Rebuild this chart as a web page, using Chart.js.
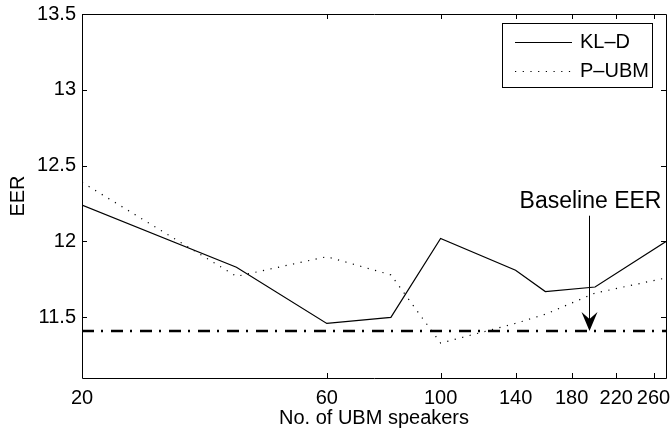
<!DOCTYPE html>
<html>
<head>
    <style>
        body {
            margin: 0;
            background: #fff;
        }
        canvas {
            display: block;
        }
    </style>
    <script src="https://cdn.jsdelivr.net/npm/chart.js"></script>
</head>
<body>
    <canvas id="myChart" width="670" height="429"></canvas>
    <script>
        // values
        var speakers = [20, 40, 60, 80, 100, 140, 160, 200, 275];
        var klD = [12.24, 11.83, 11.46, 11.50, 12.02, 11.81, 11.67, 11.70, 12.00];
        var pUbm = [12.39, 11.77, 11.90, 11.78, 11.33, 11.46, 11.52, 11.66, 11.76];
        var baselineEer = 11.41;
        var xTicks = [20, 60, 100, 140, 180, 220, 260];
        var yTicks = [11.5, 12, 12.5, 13, 13.5];

        var FONT = '"Liberation Sans", Arial, Helvetica, sans-serif';

        function pairs(xs, ys) {
            return xs.map(function(x, i) { return {x: x, y: ys[i]}; });
        }

        // box, inward ticks on all four sides
        var framePlugin = {
            id: 'frame',
            afterDraw: function(chart) {
                var c = chart.ctx, a = chart.chartArea;
                var xs = chart.scales.x, ys = chart.scales.y;
                c.save();
                c.strokeStyle = '#000';
                c.lineWidth = 1;
                c.beginPath();
                c.rect(a.left + 0.5, a.top + 0.5, a.right - a.left, a.bottom - a.top);
                xTicks.forEach(function(v) {
                    var px = Math.round(xs.getPixelForValue(v)) + 0.5;
                    c.moveTo(px, a.bottom); c.lineTo(px, a.bottom - 5);
                    c.moveTo(px, a.top); c.lineTo(px, a.top + 5);
                });
                yTicks.forEach(function(v) {
                    var py = Math.round(ys.getPixelForValue(v)) + 0.5;
                    c.moveTo(a.left, py); c.lineTo(a.left + 5, py);
                    c.moveTo(a.right, py); c.lineTo(a.right - 5, py);
                });
                c.stroke();
                c.restore();
            }
        };

        // legend box in the top right corner
        var legendBoxPlugin = {
            id: 'legendBox',
            afterDraw: function(chart) {
                var c = chart.ctx;
                var sets = chart.data.datasets.filter(function(d) { return d.inLegend; });
                c.save();
                c.fillStyle = '#fff';
                c.strokeStyle = '#000';
                c.lineWidth = 1;
                c.fillRect(502, 23, 150, 64);
                c.strokeRect(502.5, 23.5, 150, 64);
                c.font = '20px ' + FONT;
                c.textBaseline = 'middle';
                sets.forEach(function(d, i) {
                    var y = 42 + i * 29;
                    c.beginPath();
                    c.setLineDash(d.borderDash || []);
                    c.lineWidth = d.borderWidth;
                    c.moveTo(515, y + 0.5); c.lineTo(572, y + 0.5);
                    c.stroke();
                    c.setLineDash([]);
                    c.fillStyle = '#000';
                    c.fillText(d.label, 580, y);
                });
                c.restore();
            }
        };

        // "Baseline EER" note with arrow down to the baseline
        var arrowX = 195, arrowTop = 12.17, noteY = 12.26;
        var arrowPlugin = {
            id: 'arrow',
            afterDatasetsDraw: function(chart) {
                var c = chart.ctx;
                var xs = chart.scales.x, ys = chart.scales.y;
                var px = Math.round(xs.getPixelForValue(arrowX)) + 0.5;
                var tip = ys.getPixelForValue(baselineEer);
                var top = ys.getPixelForValue(arrowTop);
                c.save();
                c.strokeStyle = '#000';
                c.fillStyle = '#000';
                c.lineWidth = 1;
                c.beginPath();
                c.moveTo(px, top); c.lineTo(px, tip - 8);
                c.stroke();
                c.beginPath();
                c.moveTo(px, tip);
                c.lineTo(px - 8, tip - 19);
                c.lineTo(px, tip - 12);
                c.lineTo(px + 8, tip - 19);
                c.closePath();
                c.fill();
                c.font = '23px ' + FONT;
                c.textAlign = 'center';
                c.textBaseline = 'middle';
                c.fillText('Baseline EER', px + 1, ys.getPixelForValue(noteY));
                c.restore();
            }
        };

        var ctx = document.getElementById('myChart').getContext('2d');
        var myChart = new Chart(ctx, {
            type: 'line',
            data: {
                datasets: [{
                    label: 'Baseline',
                    data: pairs([speakers[0], speakers[speakers.length - 1]], [baselineEer, baselineEer]),
                    borderColor: '#000',
                    borderWidth: 2.6,
                    borderDash: [12, 7, 2, 8],
                    pointRadius: 0,
                    inLegend: false
                }, {
                    label: 'KL\u2013D',
                    data: pairs(speakers, klD),
                    borderColor: '#000',
                    borderWidth: 1.2,
                    pointRadius: 0,
                    inLegend: true
                }, {
                    label: 'P\u2013UBM',
                    data: pairs(speakers, pUbm),
                    borderColor: '#000',
                    borderWidth: 1.2,
                    borderDash: [1.2, 6.5],
                    pointRadius: 0,
                    inLegend: true
                }]
            },
            options: {
                responsive: false,
                animation: false,
                layout: { autoPadding: false, padding: { top: 14, right: 4, left: 0, bottom: 0 } },
                plugins: {
                    legend: { display: false },
                    tooltip: { enabled: false }
                },
                scales: {
                    x: {
                        type: 'logarithmic',
                        min: 20,
                        max: 275,
                        grid: { display: false, drawTicks: false },
                        border: { display: false },
                        afterBuildTicks: function(s) {
                            s.ticks = xTicks.map(function(v) { return {value: v}; });
                        },
                        afterFit: function(s) {
                            s.height = 51;
                            s.paddingLeft = 0;
                            s.paddingRight = 0;
                        },
                        ticks: {
                            color: '#000',
                            font: { family: FONT, size: 20 },
                            padding: 8,
                            maxRotation: 0,
                            autoSkip: false,
                            callback: function(v) { return String(v); }
                        },
                        title: {
                            display: true,
                            text: 'No. of UBM speakers',
                            color: '#000',
                            font: { family: FONT, size: 20 },
                            padding: { top: 0, bottom: -1 }
                        }
                    },
                    y: {
                        min: 11.1,
                        max: 13.5,
                        grid: { display: false, drawTicks: false },
                        border: { display: false },
                        afterBuildTicks: function(s) {
                            s.ticks = yTicks.map(function(v) { return {value: v}; });
                        },
                        afterFit: function(s) {
                            s.width = 82;
                            s.paddingTop = 0;
                            s.paddingBottom = 0;
                        },
                        ticks: {
                            color: '#000',
                            font: { family: FONT, size: 20 },
                            padding: 6,
                            callback: function(v) { return String(v); }
                        },
                        title: {
                            display: true,
                            text: 'EER',
                            color: '#000',
                            font: { family: FONT, size: 20 },
                            padding: { top: 6, bottom: 0 }
                        }
                    }
                }
            },
            plugins: [framePlugin, arrowPlugin, legendBoxPlugin]
        });
    </script>
</body>
</html>
